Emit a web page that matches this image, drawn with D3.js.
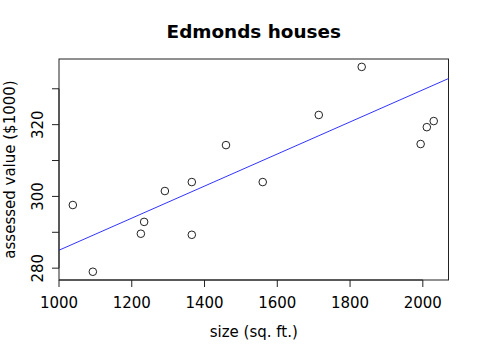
<!DOCTYPE html>
<html>
<head>
<meta charset="utf-8">
<script src="https://cdn.jsdelivr.net/npm/d3@7"></script>
<style>
  body { margin: 0; background: white; }
  text { font-family: "DejaVu Sans", sans-serif; }
</style>
</head>
<body>
<div id="canvas"></div>
<script>
"use strict";

/**** DATA ****/
let sizes = [1038, 1093, 1225, 1234, 1291, 1365, 1365, 1459, 1560, 1714, 1832, 1994, 2011, 2030];
let values = [297.6, 279.0, 289.6, 292.9, 301.5, 304.0, 289.3, 314.3, 304.0, 322.7, 336.1, 314.6, 319.3, 321.0];
let fitLine = [240.3, 0.0447]; // intercept, slope
let xTicks = [1000, 1200, 1400, 1600, 1800, 2000];
let yTicks = [280, 290, 300, 310, 320, 330];
let yTickLabels = ["280", "", "300", "", "320", ""];

/**** CONFIGURATION ****/
let svgWidth = 479;
let svgHeight = 354;

let leftMargin = 59;
let rightMargin = 30.5;
let topMargin = 59;
let bottomMargin = 74;

let svg = d3.select("#canvas")
    .append("svg")
    .attr("width", svgWidth)
    .attr("height", svgHeight);

/**** SCALES ****/
let xScale = d3.scaleLinear()
    .domain([1000, 2070.6])
    .range([leftMargin, svgWidth - rightMargin]);

let yScale = d3.scaleLinear()
    .domain([276.7, 338.3])
    .range([svgHeight - bottomMargin, topMargin]);

/**** TITLE ****/
svg.append("text")
    .attr("x", (xScale.range()[0] + xScale.range()[1]) / 2)
    .attr("y", 37.5)
    .attr("text-anchor", "middle")
    .style("font-size", "18.4px")
    .style("font-weight", "bold")
    .text("Edmonds houses");

/**** PLOT BOX ****/
svg.append("rect")
    .attr("x", xScale.range()[0])
    .attr("y", yScale.range()[1])
    .attr("width", xScale.range()[1] - xScale.range()[0])
    .attr("height", yScale.range()[0] - yScale.range()[1])
    .attr("fill", "none")
    .attr("stroke", "#222")
    .attr("stroke-width", 1);

/**** REGRESSION LINE ****/
let [x0, x1] = xScale.domain();
svg.append("line")
    .attr("x1", xScale(x0))
    .attr("y1", yScale(fitLine[0] + fitLine[1] * x0))
    .attr("x2", xScale(x1))
    .attr("y2", yScale(fitLine[0] + fitLine[1] * x1))
    .attr("stroke", "#3333ff")
    .attr("stroke-width", 1);

/**** POINTS ****/
svg.selectAll("circle.pt")
    .data(sizes)
    .join("circle")
    .attr("class", "pt")
    .attr("cx", function(d) { return xScale(d); })
    .attr("cy", function(d, i) { return yScale(values[i]); })
    .attr("r", 3.8)
    .attr("fill", "none")
    .attr("stroke", "#222")
    .attr("stroke-width", 1);

/**** X AXIS ****/
let xAxisY = yScale.range()[0];
svg.append("line")
    .attr("x1", xScale(xTicks[0]))
    .attr("x2", xScale(xTicks[xTicks.length - 1]))
    .attr("y1", xAxisY)
    .attr("y2", xAxisY)
    .attr("stroke", "#222");

for (let i = 0; i < xTicks.length; i++) {
    svg.append("line")
        .attr("x1", xScale(xTicks[i]))
        .attr("x2", xScale(xTicks[i]))
        .attr("y1", xAxisY)
        .attr("y2", xAxisY + 7)
        .attr("stroke", "#222");

    svg.append("text")
        .attr("x", xScale(xTicks[i]))
        .attr("y", 308)
        .attr("text-anchor", "middle")
        .style("font-size", "15px")
        .text(`${xTicks[i]}`);
}

/**** Y AXIS ****/
let yAxisX = xScale.range()[0];
svg.append("line")
    .attr("x1", yAxisX)
    .attr("x2", yAxisX)
    .attr("y1", yScale(yTicks[0]))
    .attr("y2", yScale(yTicks[yTicks.length - 1]))
    .attr("stroke", "#222");

for (let i = 0; i < yTicks.length; i++) {
    svg.append("line")
        .attr("x1", yAxisX - 7)
        .attr("x2", yAxisX)
        .attr("y1", yScale(yTicks[i]))
        .attr("y2", yScale(yTicks[i]))
        .attr("stroke", "#222");

    if (yTickLabels[i] !== "") {
        svg.append("text")
            .attr("transform", `translate(43, ${yScale(yTicks[i])}) rotate(-90)`)
            .attr("text-anchor", "middle")
            .style("font-size", "15px")
            .text(yTickLabels[i]);
    }
}

/**** AXIS TITLES ****/
svg.append("text")
    .attr("x", (xScale.range()[0] + xScale.range()[1]) / 2)
    .attr("y", 337)
    .attr("text-anchor", "middle")
    .style("font-size", "15px")
    .text("size (sq. ft.)");

svg.append("text")
    .attr("transform", `translate(15, ${(yScale.range()[0] + yScale.range()[1]) / 2}) rotate(-90)`)
    .attr("text-anchor", "middle")
    .style("font-size", "15px")
    .text("assessed value ($1000)");
</script>
</body>
</html>
